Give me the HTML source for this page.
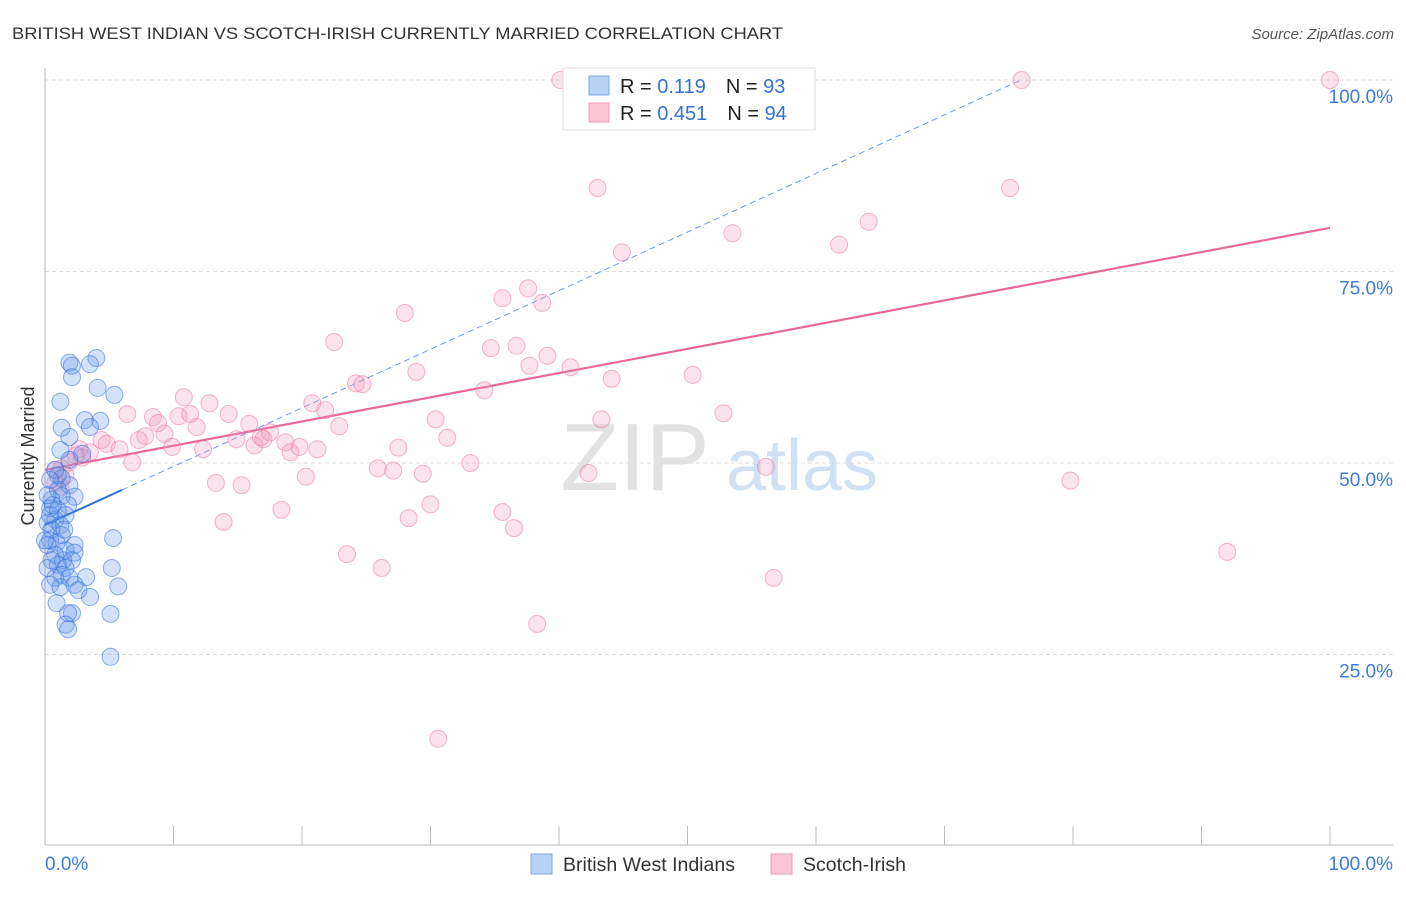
<!DOCTYPE html>
<html><head><meta charset="utf-8"><style>
body{margin:0;background:#fff;font-family:"Liberation Sans",sans-serif;}
svg text{font-family:"Liberation Sans",sans-serif;}
</style></head><body>
<svg id="chart" width="1406" height="892">
<text x="12" y="39" font-size="17" fill="#333" textLength="771" lengthAdjust="spacingAndGlyphs">BRITISH WEST INDIAN VS SCOTCH-IRISH CURRENTLY MARRIED CORRELATION CHART</text>
<text x="1394" y="39" font-size="15" fill="#555" font-style="italic" text-anchor="end">Source: ZipAtlas.com</text>
<text x="34" y="456" font-size="18" fill="#333" text-anchor="middle" transform="rotate(-90 34 456)">Currently Married</text>
<g><text x="635" y="490" font-size="96" font-family="Liberation Serif,serif" fill="#e2e2e2" text-anchor="middle">ZIP</text><text x="802" y="490" font-size="72" fill="#d0e1f4" text-anchor="middle">atlas</text></g>
<g id="grid"></g><g id="axes"></g><g id="trend"></g><g id="pts"></g>
<g>
<rect x="563" y="68" width="252" height="62" fill="#fff" stroke="#ddd"/>
<rect x="589" y="76" width="20" height="19" fill="#b9d3f5" stroke="#7aa7e6"/>
<text x="620" y="93" font-size="20" fill="#222">R = <tspan fill="#3572d6"> 0.119</tspan><tspan dx="20">N = </tspan><tspan fill="#3572d6">93</tspan></text>
<rect x="589" y="103" width="20" height="19" fill="#fac6d6" stroke="#f09ab8"/>
<text x="620" y="120" font-size="20" fill="#222">R = <tspan fill="#3572d6">0.451</tspan><tspan dx="20">N = </tspan><tspan fill="#3572d6">94</tspan></text>
</g>
<g>
<rect x="531" y="854" width="21" height="20" fill="#b9d3f5" stroke="#7aa7e6"/>
<text x="563" y="871" font-size="19.5" fill="#333">British West Indians</text>
<rect x="771" y="854" width="21" height="20" fill="#fac6d6" stroke="#f09ab8"/>
<text x="803" y="871" font-size="19.5" fill="#333">Scotch-Irish</text>
</g>
</svg>
<script>
const yTicks=[25,50,75,100];
const yTickLabels=["25.0%","50.0%","75.0%","100.0%"];
const xTickLabels=["0.0%","100.0%"];
const blueX=[1.9,4.0,3.5,2.1,2.1,4.1,5.4,1.2,3.1,4.3,1.3,3.5,1.9,1.2,2.9,1.9,0.8,1.3,1.9,1.0,2.3,1.3,0.5,1.8,0.4,1.0,1.6,0.8,0.2,1.2,0.5,1.3,0.4,0.9,0.2,2.3,1.6,5.3,0.8,1.4,2.3,2.1,0.2,1.0,1.6,1.3,1.9,0.8,3.2,5.2,0.4,1.2,2.3,5.7,2.6,3.5,0.9,2.1,1.8,1.6,1.8,5.1,5.1,0.4,0.6,1.0,0.4,0.2,1.5,0,0.5];
const blueY=[63.1,63.7,62.9,62.7,61.2,59.8,58.9,58.0,55.6,55.5,54.6,54.7,53.4,51.7,51.2,50.4,49.1,48.0,47.1,46.5,45.6,45.7,45.2,44.5,44.1,43.9,43.2,42.6,42.2,41.9,41.3,40.6,39.9,39.6,39.3,39.3,38.6,40.2,38.0,37.3,38.3,37.3,36.3,36.7,36.3,35.4,35.0,35.0,35.1,36.3,34.1,33.8,34.1,33.9,33.4,32.5,31.7,30.4,30.4,28.9,28.3,30.3,24.7,43.2,44.5,48.4,47.8,45.8,41.3,39.9,37.3];
const pinkX=[40.1,49.1,76.0,100,43.0,75.1,44.9,53.5,61.8,64.1,37.6,35.6,38.7,28.0,22.5,34.7,36.7,39.1,40.9,37.7,28.9,44.1,50.4,24.2,24.7,34.2,10.8,12.8,20.8,21.8,6.4,8.4,10.4,11.3,14.3,30.4,43.3,52.8,22.9,15.9,8.8,11.8,7.8,9.3,14.9,17.0,17.5,18.7,31.3,7.3,4.4,4.8,5.8,9.9,12.3,16.3,16.8,19.1,19.8,21.2,27.5,6.8,33.1,25.9,27.1,29.4,13.3,15.3,20.3,2.7,3.5,1.9,1.3,0.8,1.2,2.4,56.1,79.8,42.3,30.0,28.3,18.4,13.9,35.6,36.5,23.5,26.2,92.0,56.7,38.3,30.6,0.8,1.6,2.9];
const pinkY=[100,100,100,100,85.9,85.9,77.5,80.0,78.5,81.5,72.8,71.5,70.9,69.6,65.8,65.0,65.3,64.0,62.5,62.7,61.9,61.0,61.5,60.4,60.3,59.5,58.6,57.8,57.8,56.9,56.4,56.0,56.1,56.4,56.4,55.7,55.7,56.5,54.8,55.1,55.2,54.7,53.5,53.8,53.1,53.1,54.0,52.7,53.3,53.0,53.0,52.5,51.8,52.1,51.8,52.3,53.4,51.4,52.1,51.8,52.0,50.1,50.0,49.3,49.0,48.6,47.4,47.1,48.2,51.8,51.4,50.1,49.3,47.4,46.9,51.0,49.5,47.7,48.7,44.6,42.8,43.9,42.3,43.6,41.5,38.1,36.3,38.4,35.0,29.0,14.0,49.1,48.4,50.7];
const blueTrend=[41.9,0.765]; // intercept, slope
const pinkTrend=[49.1,0.316];
const NS="http://www.w3.org/2000/svg";
const X0=45,X1=1330,Y0=846,PY=7.66;
const sx=v=>X0+(X1-X0)*v/100, sy=v=>Y0-v*PY;
function mk(t,a,p){const e=document.createElementNS(NS,t);for(const k in a)e.setAttribute(k,a[k]);p.appendChild(e);return e;}
const grid=document.getElementById('grid'),axes=document.getElementById('axes'),trend=document.getElementById('trend'),pts=document.getElementById('pts');
yTicks.forEach((v,i)=>{
 const l=mk('line',{x1:45,x2:1393,y1:sy(v),y2:sy(v),stroke:'#ddd','stroke-dasharray':'4,3'},grid);
 
 
 const t=mk('text',{x:1393,y:sy(v)+23,'font-size':19,fill:'#3d7be0','text-anchor':'end'},grid);
 t.textContent=yTickLabels[i];
 
 
});
const ax=mk('line',{x1:45,x2:1393,y1:845,y2:845,stroke:'#bbb'},axes);


const ay=mk('line',{x1:45,x2:45,y1:68,y2:845,stroke:'#bbb'},axes);


for(let i=0;i<=10;i++){const t=mk('line',{x1:sx(i*10),x2:sx(i*10),y1:826,y2:845,stroke:'#bbb'},axes);
 
 }
const xl0=mk('text',{x:45,y:870,'font-size':19,fill:'#3d7be0'},axes);xl0.textContent=xTickLabels[0];


const xl1=mk('text',{x:1393,y:870,'font-size':19,fill:'#3d7be0','text-anchor':'end'},axes);xl1.textContent=xTickLabels[1];


pinkX.forEach((x,i)=>{const c=mk('circle',{cx:sx(x),cy:sy(pinkY[i]),r:8.5,fill:'rgba(245,150,185,0.28)',stroke:'rgba(235,120,165,0.55)','stroke-width':1},pts);
 
 });
blueX.forEach((x,i)=>{const c=mk('circle',{cx:sx(x),cy:sy(blueY[i]),r:8.5,fill:'rgba(100,150,235,0.28)',stroke:'rgba(50,110,220,0.55)','stroke-width':1},pts);
 
 });
const bx1=6,bx2=(100-blueTrend[0])/blueTrend[1];
const bs=mk('line',{x1:sx(0),y1:sy(blueTrend[0]),x2:sx(bx1),y2:sy(blueTrend[0]+blueTrend[1]*bx1),stroke:'#2f6fd8','stroke-width':2},trend);


const bd=mk('line',{x1:sx(bx1),y1:sy(blueTrend[0]+blueTrend[1]*bx1),x2:sx(bx2),y2:sy(100),stroke:'#6a9be6','stroke-width':1,'stroke-dasharray':'6,4'},trend);


const pl=mk('line',{x1:sx(0),y1:sy(pinkTrend[0]),x2:sx(100),y2:sy(pinkTrend[0]+pinkTrend[1]*100),stroke:'#e8689a','stroke-width':2.2},trend);


</script>
</body></html>
